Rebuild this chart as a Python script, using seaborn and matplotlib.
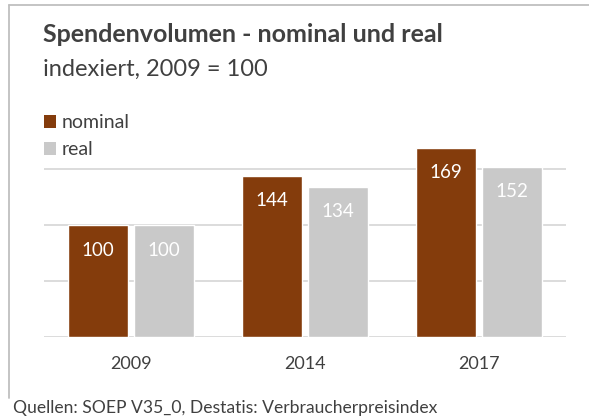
import matplotlib
matplotlib.use("Agg")
import matplotlib.pyplot as plt
import seaborn as sns
import pandas as pd
from matplotlib.patches import Patch
from matplotlib.lines import Line2D

years = ["2009", "2014", "2017"]
nominal = [100, 144, 169]
real = [100, 134, 152]
series_names = ["nominal", "real"]

title = "Spendenvolumen - nominal und real"
subtitle = "indexiert, 2009 = 100"
caption = "Quellen: SOEP V35_0, Destatis: Verbraucherpreisindex"

BROWN = "#843C0C"
GRAY = "#C9C9C9"
TEXT = "#404040"
GRID = "#D9D9D9"

df = pd.DataFrame({
    "Jahr": years * 2,
    "Index": nominal + real,
    "Serie": [series_names[0]] * len(years) + [series_names[1]] * len(years),
})

sns.set_theme(style="white")
plt.rcParams["font.family"] = ["Lato", "DejaVu Sans"]

W, H = 589, 419
fig = plt.figure(figsize=(W / 100, H / 100), dpi=100)
ax = fig.add_axes([44 / W, (H - 337) / H, (566 - 44) / W, (337 - 141) / H])

sns.barplot(data=df, x="Jahr", y="Index", hue="Serie", palette=[BROWN, GRAY],
            width=0.759, gap=0.09, saturation=1, legend=False, ax=ax, errorbar=None)

ax.set_ylim(0, 175)
ax.set_xlim(-0.5, len(years) - 0.5)
ax.set_yticks([0, 50, 100, 150])
ax.yaxis.grid(True, color=GRID, linewidth=1.3)
ax.set_axisbelow(True)
ax.tick_params(axis="y", left=False, labelleft=False)
ax.tick_params(axis="x", bottom=False, pad=8, labelsize=13, labelcolor=TEXT)
for s in ax.spines.values():
    s.set_visible(False)
ax.set_xlabel("")
ax.set_ylabel("")

for p in ax.patches:
    h = p.get_height()
    if h > 0:
        ax.annotate(f"{h:.0f}", (p.get_x() + p.get_width() / 2, h),
                    xytext=(0, -18), textcoords="offset points",
                    ha="center", va="center", color="white", fontsize=13.5)

fig.text(43 / W, 1 - 35 / H, title, fontsize=18, fontweight="bold", color=TEXT, va="center", ha="left")
fig.text(43 / W, 1 - 69 / H, subtitle, fontsize=17, color=TEXT, va="center", ha="left")
fig.text(13 / W, 1 - 408 / H, caption, fontsize=12.6, color=TEXT, va="center", ha="left")

handles = [Patch(facecolor=BROWN, edgecolor="none"), Patch(facecolor=GRAY, edgecolor="none")]
fig.legend(handles, series_names, loc="upper left", bbox_to_anchor=(26 / W, 1 - 97 / H),
           frameon=False, fontsize=14, handlelength=0.62, handleheight=0.62,
           handletextpad=0.3, labelspacing=0.5, labelcolor=TEXT, borderpad=0.4)

fig.add_artist(Line2D([9 / W, 1], [1 - 5 / H, 1 - 5 / H], transform=fig.transFigure, color="#BFBFBF", lw=1.3))
fig.add_artist(Line2D([9 / W, 9 / W], [1 - 5 / H, 1 - 398 / H], transform=fig.transFigure, color="#BFBFBF", lw=1.3))

fig.savefig("out.png", dpi=100)
